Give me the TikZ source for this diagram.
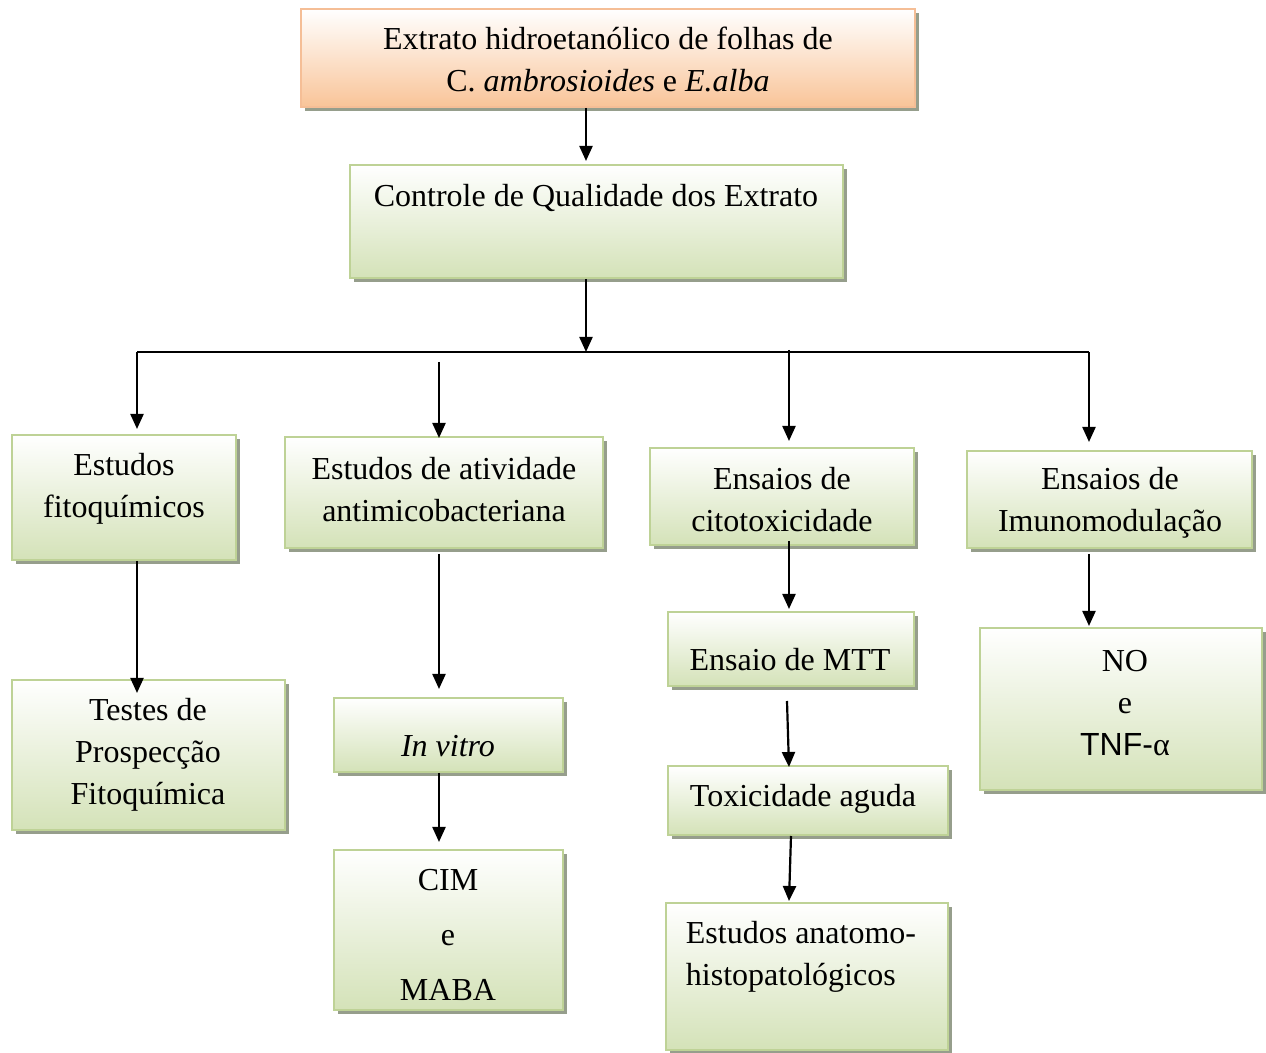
\documentclass[tikz,border=0pt]{standalone}
\usepackage{fontspec}
\setmainfont{Liberation Serif}
\newfontfamily\arialfont{Liberation Sans}
\usetikzlibrary{arrows.meta,shadows}

\definecolor{verdeBorda}{RGB}{190,210,150}
\definecolor{verdeFundo}{RGB}{212,226,184}
\definecolor{laranjaBorda}{RGB}{245,190,150}
\definecolor{laranjaFundo}{RGB}{249,196,152}
\definecolor{sombra}{RGB}{150,158,140}

\tikzset{
  caixa/.style={draw=verdeBorda, line width=1pt, top color=white,
    bottom color=verdeFundo, inner sep=0pt,
    drop shadow={shadow xshift=2pt, shadow yshift=-2pt, fill=sombra, opacity=1}},
  caixaLaranja/.style={caixa, draw=laranjaBorda, top color=white,
    bottom color=laranjaFundo},
  texto/.style={font=\fontsize{16}{21}\selectfont, align=center, inner sep=0pt},
  seta/.style={line width=1.1pt, -{Triangle[length=7.5pt,width=6.5pt]}},
  linha/.style={line width=1.1pt}
}

\begin{document}
\begin{tikzpicture}[x=0.5pt,y=-0.5pt]
\useasboundingbox (0,0) rectangle (1266,1053);

% caixas
\node[caixaLaranja, minimum width=307pt, minimum height=49pt] (extrato) at (608,58) {};
\node[caixa, minimum width=246.5pt, minimum height=56.5pt] (controle) at (596.5,221.5) {};

\node[caixa, minimum width=112pt, minimum height=62.5pt] (fito) at (124,497.5) {};
\node[caixa, minimum width=159pt, minimum height=55.5pt] (antimico) at (444,492.5) {};
\node[caixa, minimum width=132pt, minimum height=48.5pt] (citotox) at (782,496.5) {};
\node[caixa, minimum width=142.5pt, minimum height=48.5pt] (imuno) at (1109.5,499.5) {};

\node[caixa, minimum width=136.5pt, minimum height=75pt] (testes) at (148.5,755) {};
\node[caixa, minimum width=114.5pt, minimum height=37pt] (invitro) at (448.5,735) {};
\node[caixa, minimum width=114.5pt, minimum height=80pt] (cim) at (448.5,930) {};
\node[caixa, minimum width=123pt, minimum height=37pt] (mtt) at (791,649) {};
\node[caixa, minimum width=140pt, minimum height=34.5pt] (toxic) at (808,800.5) {};
\node[caixa, minimum width=141pt, minimum height=73.5pt] (anatomo) at (807,976.5) {};
\node[caixa, minimum width=141pt, minimum height=81pt] (noTnf) at (1121,709) {};

% setas
\coordinate (eixo) at (586,352);
\coordinate (barraE) at (137,352);
\coordinate (barraD) at (1089,352);
\coordinate (ramoB) at (439,362);
\coordinate (ramoC) at (789,350);

\draw[seta] (extrato.south -| eixo) -- ([yshift=1.5pt]controle.north -| eixo);
\draw[seta] (controle.south -| eixo) -- (eixo);
\draw[linha] (barraE) -- (barraD);

\draw[seta] (barraE) -- ([yshift=2.5pt]fito.north -| barraE);
\draw[seta] (ramoB) -- ([yshift=-1pt]antimico.north -| ramoB);
\draw[seta] (ramoC) -- ([yshift=3pt]citotox.north -| ramoC);
\draw[seta] (barraD) -- ([yshift=4pt]imuno.north -| barraD);

\draw[seta] (fito.south -| barraE) -- ([yshift=-7pt]testes.north -| barraE);
\draw[seta] ([yshift=-2.5pt]antimico.south -| ramoB) -- ([yshift=4pt]invitro.north -| ramoB);
\draw[seta] (invitro.south -| ramoB) -- ([yshift=3.5pt]cim.north -| ramoB);
\draw[seta] ([yshift=2.5pt]citotox.south -| ramoC) -- ([yshift=1pt]mtt.north -| ramoC);
\draw[seta] ([xshift=-1pt,yshift=-7pt]mtt.south -| ramoC) -- ([yshift=-1pt]toxic.north -| ramoC);
\draw[seta] ([xshift=1pt]toxic.south -| ramoC) -- ([yshift=0.5pt]anatomo.north -| ramoC);
\draw[seta] ([yshift=-2.5pt]imuno.south -| barraD) -- ([yshift=0.5pt]noTnf.north -| barraD);

% textos
\node[texto] (extratoTxt) at (608,59)
{Extrato hidroetanólico de folhas de\\C. \textit{ambrosioides} e \textit{E.alba}};
\node[texto] (controleTxt) at (596,198)
{Controle de Qualidade dos Extrato};

\node[texto] (fitoTxt) at (124,489)
{Estudos\\fitoquímicos};
\node[texto] (antimicoTxt) at (444,490)
{Estudos de atividade\\antimicobacteriana};
\node[texto] (citotoxTxt) at (782,500)
{Ensaios de\\citotoxicidade};
\node[texto] (imunoTxt) at (1110,503)
{Ensaios de\\Imunomodulação};

\node[texto] (testesTxt) at (148,755)
{Testes de\\Prospecção\\Fitoquímica};
\node[texto] (invitroTxt) at (448,746)
{\textit{In vitro}};
\node[texto, font=\fontsize{16}{27.5}\selectfont] (cimTxt) at (448,935)
{CIM\\e\\MABA};
\node[texto] (mttTxt) at (790,660)
{Ensaio de MTT};
\node[texto] (toxicTxt) at (803,799)
{Toxicidade aguda};
\node[texto, align=left] (anatomoTxt) at (801,957)
{Estudos anatomo-\\histopatológicos};
\node[texto] (noTnfTxt) at (1125,703)
{NO\\e\\{\arialfont TNF-}α};

\end{tikzpicture}
\end{document}
